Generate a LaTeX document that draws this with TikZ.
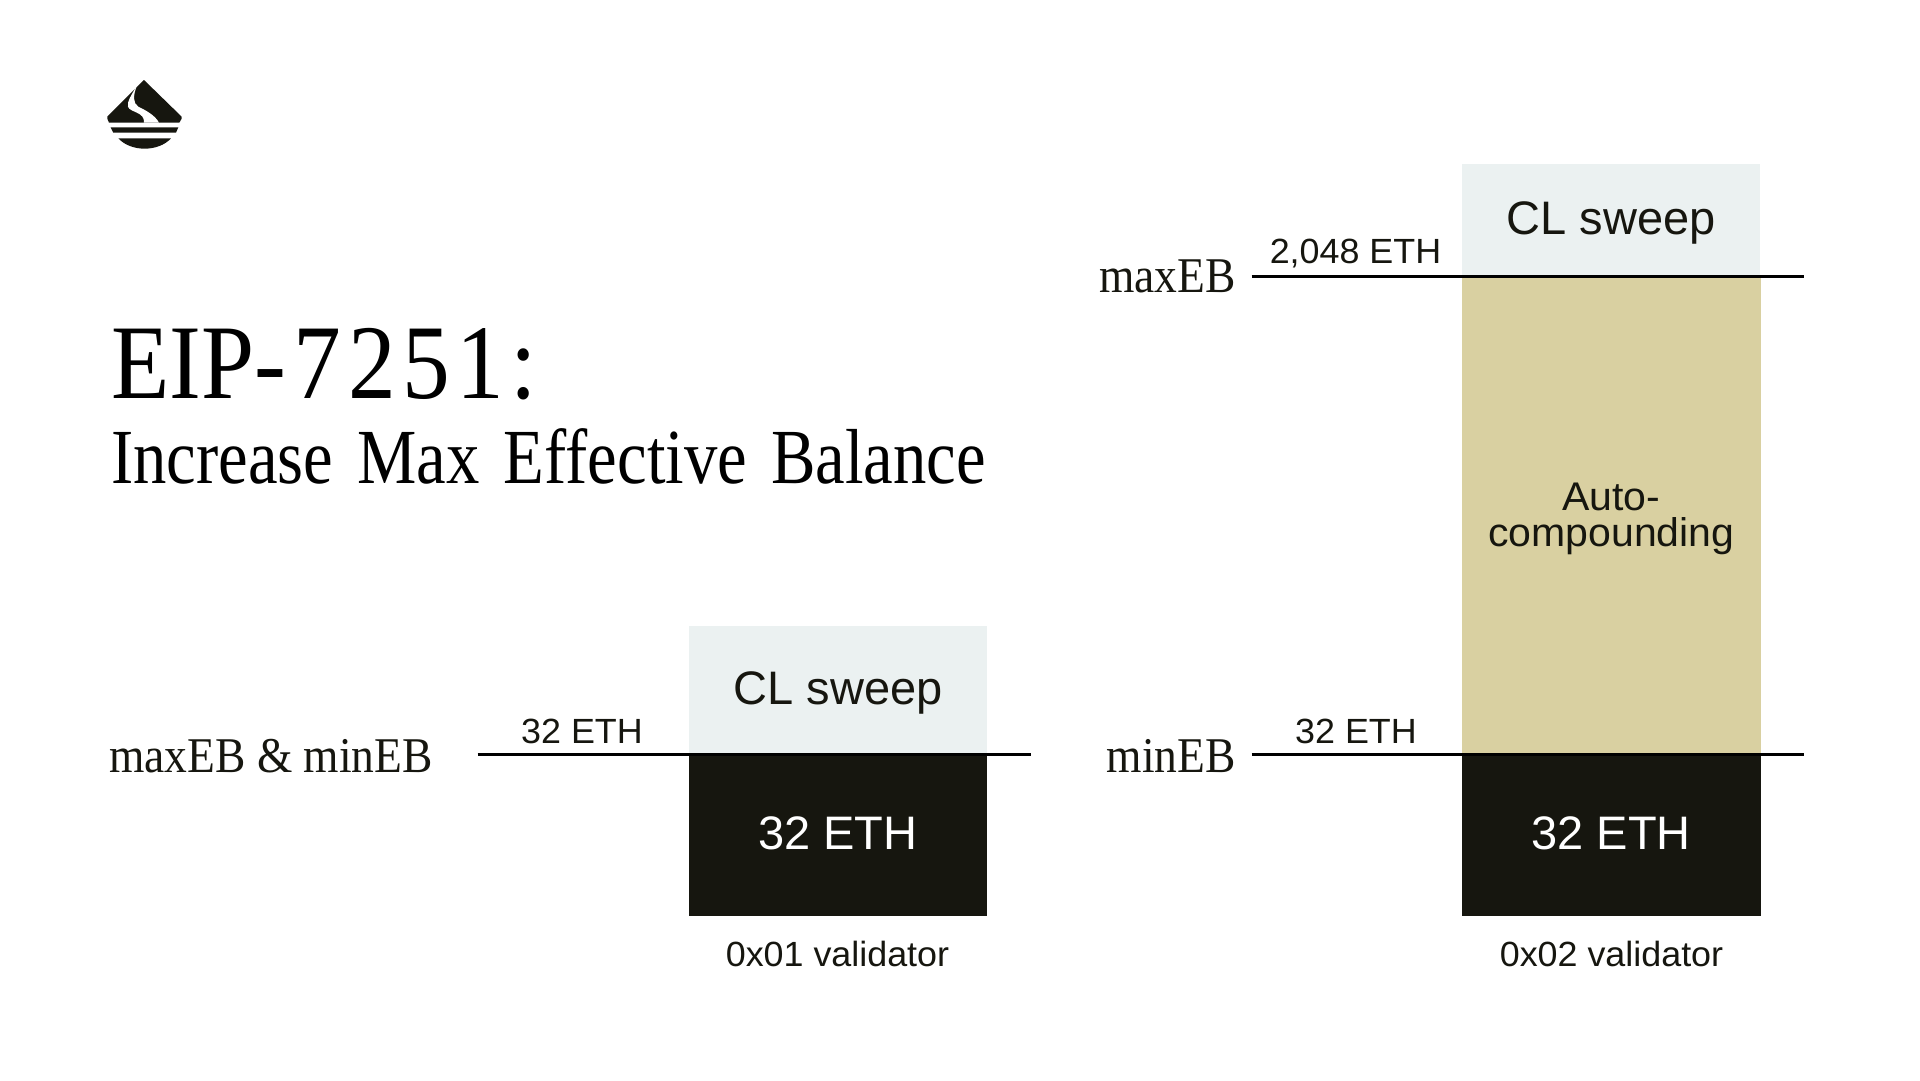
\documentclass[tikz,border=0pt]{standalone}
\usepackage{fontspec}
\setmainfont{Liberation Serif}
\newfontfamily\titlef[FakeStretch=0.9]{Liberation Serif}
\newfontfamily\subf[FakeStretch=0.855,WordSpace=1.45]{Liberation Serif}
\newfontfamily\lblf[FakeStretch=0.91]{Liberation Serif}
\newfontfamily\bigs{Liberation Sans}
\newfontfamily\smalls[FakeStretch=1.025]{Liberation Sans}
\definecolor{ink}{HTML}{16160F}
\definecolor{sweepc}{HTML}{EBF1F1}
\definecolor{tanc}{HTML}{D9D0A1}
\tikzset{
  blockbox/.style={anchor=north west,inner sep=0pt,outer sep=0pt,minimum width=#1,text=ink,align=center},
  bigtxt/.style={font=\bigs\fontsize{47}{47}\selectfont,text height=35pt,text depth=6pt},
  eqline/.style={draw=black,line width=3.6pt},
  smalltxt/.style={font=\smalls\fontsize{35}{35}\selectfont,text=ink,inner sep=0pt,anchor=base},
  eblabel/.style={font=\lblf\fontsize{50}{50}\selectfont,text=ink,inner sep=0pt,anchor=base east},
}
\begin{document}
\begin{tikzpicture}[x=1pt,y=-1pt]
\useasboundingbox (0,0) rectangle (1920,1080);
\fill[white] (0,0) rectangle (1920,1080);
% logo
\begin{scope}[shift={(90,60)},x=0.3333pt,y=-0.3333pt]
\fill[ink] (162,60) -- (275,170) -- (275,176) -- (268,188) -- (57,188) -- (52,176) -- (52,170) -- cycle;
\fill[white] (135,86) .. controls (125,105) and (110,125) .. (114,140) .. controls (120,158) and (165,155) .. (162,188) -- (207,188) .. controls (195,165) and (165,150) .. (145,140) .. controls (128,130) and (130,105) .. (139,82) -- cycle;
\fill[ink] (62,202) -- (265,202) -- (258,218) -- (70,218) -- cycle;
\fill[ink] (85,235) -- (243,235) .. controls (225,255) and (195,266) .. (164,266) .. controls (133,266) and (103,255) .. (85,235) -- cycle;
\end{scope}
% title
\node[anchor=base west,inner sep=0pt,text=black,font=\titlef\fontsize{106}{106}\selectfont] (title) at (111,398) {EIP-\kern8pt 7\kern6.5pt 2\kern6.5pt 5\kern6.5pt 1\kern6pt :};
\node[anchor=base west,inner sep=0pt,text=black,font=\subf\fontsize{78}{78}\selectfont] (subtitle) at (111,483) {Increase Max Effective Balance};
% left column
\node[blockbox=298pt,minimum height=128pt,fill=sweepc,bigtxt] (sweepL) at (689,626) {CL sweep};
\node[blockbox=298pt,minimum height=162pt,fill=ink,bigtxt,text=white] (baseL) at (689,754) {32 ETH};
\node[smalltxt] (valL) at (837.5,966.5) {0x01 validator};
% right column
\node[blockbox=298pt,minimum height=112pt,fill=sweepc,bigtxt] (sweepR) at (1462,164) {CL sweep};
\node[blockbox=298.5pt,minimum height=478pt,fill=tanc,font=\smalls\fontsize{40}{35.5}\selectfont] (auto) at (1462,276) {\rule{0pt}{35pt}Auto-\\compounding};
\node[blockbox=298.5pt,minimum height=162pt,fill=ink,bigtxt,text=white] (baseR) at (1462,754) {32 ETH};
\node[smalltxt] (valR) at (1611.5,966.5) {0x02 validator};
% level lines
\coordinate (l1a) at (477.5,754.5);
\coordinate (l1b) at (1031,754.5);
\coordinate (l2a) at (1251.5,754.5);
\coordinate (l2b) at (1804,754.5);
\coordinate (l3a) at (1251.5,276.5);
\coordinate (l3b) at (1804,276.5);
\draw[eqline] (l1a) -- (l1b);
\draw[eqline] (l2a) -- (l2b);
\draw[eqline] (l3a) -- (l3b);
% labels
\node[smalltxt] (v1) at (582,743.5) {32 ETH};
\node[smalltxt] (v2) at (1356,743.5) {32 ETH};
\node[smalltxt] (v3) at (1355.5,263.5) {2,048 ETH};
\node[eblabel] (n1) at (433,772) {maxEB \& minEB};
\node[eblabel] (n2) at (1236,772) {minEB};
\node[eblabel] (n3) at (1236,292) {maxEB};
\end{tikzpicture}
\end{document}
